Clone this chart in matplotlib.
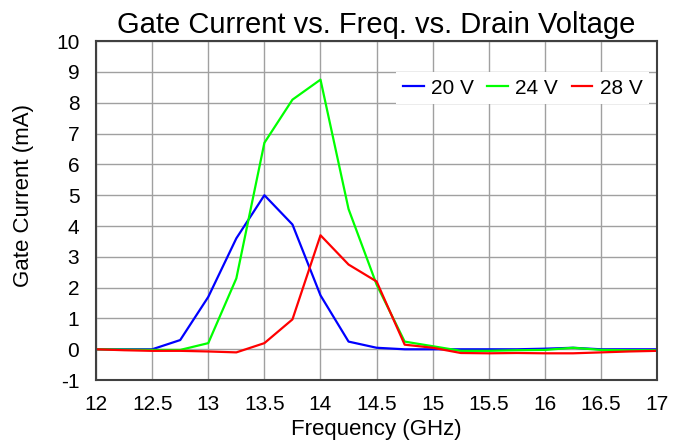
import matplotlib
matplotlib.use("Agg")
import matplotlib.pyplot as plt

plt.rcParams['font.family'] = ['Liberation Sans', 'DejaVu Sans']
plt.rcParams['axes.unicode_minus'] = False

freq = [12, 12.25, 12.5, 12.75, 13, 13.25, 13.5, 13.75, 14, 14.25, 14.5,
        14.75, 15, 15.25, 15.5, 15.75, 16, 16.25, 16.5, 16.75, 17]

i_20v = [0.0, 0.0, 0.0, 0.3, 1.7, 3.6, 5.0, 4.05, 1.75, 0.25, 0.05,
         0.0, 0.0, 0.0, 0.0, 0.0, 0.02, 0.05, 0.0, 0.0, 0.0]
i_24v = [0.0, -0.01, -0.02, -0.02, 0.2, 2.3, 6.7, 8.1, 8.75, 4.55, 2.1,
         0.25, 0.1, -0.05, -0.05, -0.03, -0.02, 0.05, -0.02, -0.03, -0.03]
i_28v = [0.0, -0.03, -0.05, -0.05, -0.07, -0.1, 0.2, 0.97, 3.7, 2.75, 2.2,
         0.15, 0.05, -0.12, -0.13, -0.12, -0.13, -0.13, -0.1, -0.07, -0.05]

xticks = [12, 12.5, 13, 13.5, 14, 14.5, 15, 15.5, 16, 16.5, 17]
xticklabels = ["12", "12.5", "13", "13.5", "14", "14.5", "15", "15.5", "16", "16.5", "17"]
yticks = list(range(-1, 11))


def main():
    fig = plt.figure(figsize=(6.86, 4.42), dpi=100)
    ax = fig.add_axes([0.140, 0.140, 0.818, 0.767])

    ax.plot(freq, i_20v, color="#0000ff", lw=1.6, label="20 V")
    ax.plot(freq, i_24v, color="#00ff00", lw=1.6, label="24 V")
    ax.plot(freq, i_28v, color="#ff0000", lw=1.6, label="28 V")

    ax.set_xlim(12, 17)
    ax.set_ylim(-1, 10)
    ax.set_xticks(xticks)
    ax.set_xticklabels(xticklabels)
    ax.set_yticks(yticks)
    ax.tick_params(length=0, labelsize=15)
    ax.tick_params(axis="x", pad=11)
    ax.tick_params(axis="y", pad=12)
    ax.grid(True, color="#a0a0a0", lw=1)
    ax.set_axisbelow(True)
    for sp in ax.spines.values():
        sp.set_linewidth(1.5)
        sp.set_color("#404040")

    ax.set_title("Gate Current vs. Freq. vs. Drain Voltage", fontsize=21, pad=6)
    ax.set_xlabel("Frequency (GHz)", fontsize=16, labelpad=3)
    ax.set_ylabel("Gate Current (mA)", fontsize=16)
    ax.yaxis.set_label_coords(-0.11, 0.546)

    ax.legend(loc="center right", ncol=3, fontsize=15, frameon=True,
              fancybox=False, edgecolor="none", framealpha=1,
              handlelength=1.0, handletextpad=0.35, columnspacing=0.65,
              bbox_to_anchor=(0.985, 0.861), borderaxespad=0,
              borderpad=0.3)

    fig.savefig("out.png", dpi=100)
    plt.close(fig)


if __name__ == "__main__":
    main()
